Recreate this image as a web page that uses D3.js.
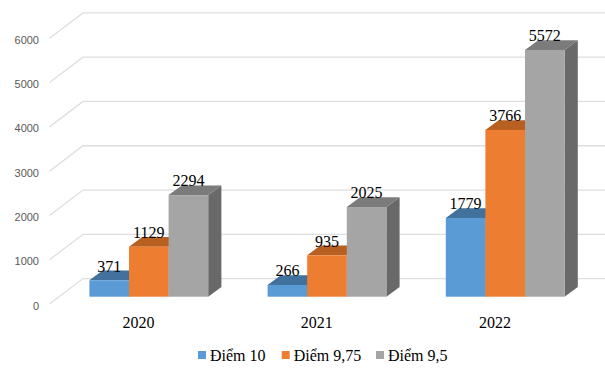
<!DOCTYPE html>
<html>
<head>
<meta charset="utf-8">
<script src="https://cdn.jsdelivr.net/npm/d3@7"></script>
<style>
body { margin: 0; background: #fff; }
svg { display: block; }
</style>
</head>
<body>
<div id="chart"></div>
<script>
var years = ['2020', '2021', '2022']
var seriesNames = ['Điểm 10', 'Điểm 9,75', 'Điểm 9,5']
var diem10 = [371, 266, 1779]
var diem975 = [1129, 935, 3766]
var diem95 = [2294, 2025, 5572]
var yTicks = [0, 1000, 2000, 3000, 4000, 5000, 6000]

var allSeries = [diem10, diem975, diem95]
var frontColors = ['#5b9bd5', '#ed7d31', '#a5a5a5']
var topColors = ['#41719c', '#b85f22', '#7b7b7b']
var sideColors = ['#3f6b94', '#ad5a20', '#696969']

var width = 605
var height = 371

var svg = d3.select('#chart').append('svg')
    .attr('width', width)
    .attr('height', height)

// scales sit on the front edge of the floor
var x = d3.scaleBand().domain(years).range([49.5, 584.1])
var inner = d3.scaleBand().domain([0, 1, 2]).range([0, 118.8])
var y = d3.scaleLinear().domain([0, 6000]).range([304, 38.3])

// wall depth and bar offsets
var wallDx = 33.5, wallDy = -25.4
var barDx = 10.2, barDy = -7.3
var depthDx = 13.2, depthDy = -9.7

// gridlines on the side wall and back wall
svg.append('g')
    .selectAll('path')
    .data(yTicks)
    .enter()
    .append('path')
    .attr('d', function(d) {
        return 'M' + x.range()[0] + ',' + y(d) +
            'L' + (x.range()[0] + wallDx) + ',' + (y(d) + wallDy) +
            'L' + width + ',' + (y(d) + wallDy)
    })
    .attr('fill', 'none')
    .attr('stroke', '#dedede')
    .attr('stroke-width', 1.3)

// y axis
var yAxis = d3.axisLeft(y).tickValues(yTicks).tickSize(0).tickPadding(0).tickFormat(d3.format('d'))
var yG = svg.append('g')
    .attr('transform', 'translate(39,1.5)')
    .call(yAxis)
yG.select('.domain').remove()
yG.selectAll('text')
    .attr('font-family', 'Liberation Sans')
    .attr('font-size', 11)
    .attr('fill', '#595959')

// x axis
var xAxis = d3.axisBottom(x).tickSize(0).tickPadding(0)
var xG = svg.append('g')
    .attr('transform', 'translate(0,317)')
    .call(xAxis)
xG.select('.domain').remove()
xG.selectAll('text')
    .attr('font-family', 'Liberation Serif')
    .attr('font-size', 16)
    .attr('fill', '#000')

// bars
years.forEach(function(year, i) {
    var g = svg.append('g')
    var groupLeft = x(year) + (x.bandwidth() - inner.range()[1]) / 2 + barDx
    var base = y(0) + barDy

    allSeries.forEach(function(values, s) {
        var left = groupLeft + inner(s)
        var right = left + inner.bandwidth()
        var top = y(values[i]) + barDy

        g.append('path')
            .attr('d', 'M' + right + ',' + top + 'L' + (right + depthDx) + ',' + (top + depthDy) +
                'L' + (right + depthDx) + ',' + (base + depthDy) + 'L' + right + ',' + base + 'Z')
            .attr('fill', sideColors[s])
        g.append('path')
            .attr('d', 'M' + left + ',' + top + 'L' + (left + depthDx) + ',' + (top + depthDy) +
                'L' + (right + depthDx) + ',' + (top + depthDy) + 'L' + right + ',' + top + 'Z')
            .attr('fill', topColors[s])
        g.append('rect')
            .attr('x', left)
            .attr('y', top)
            .attr('width', inner.bandwidth())
            .attr('height', base - top)
            .attr('fill', frontColors[s])
    })
})

// data labels go on last so the bars never cover them
years.forEach(function(year, i) {
    var groupLeft = x(year) + (x.bandwidth() - inner.range()[1]) / 2 + barDx
    allSeries.forEach(function(values, s) {
        svg.append('text')
            .attr('x', groupLeft + inner(s) + inner.bandwidth() / 2)
            .attr('y', y(values[i]) + barDy - 8.7)
            .attr('text-anchor', 'middle')
            .attr('font-family', 'Liberation Serif')
            .attr('font-size', 16)
            .attr('fill', '#000')
            .text(values[i])
    })
})

// legend
var legendX = [198, 281.7, 376]
seriesNames.forEach(function(name, s) {
    svg.append('rect')
        .attr('x', legendX[s])
        .attr('y', 351)
        .attr('width', 8)
        .attr('height', 8)
        .attr('fill', frontColors[s])
    svg.append('text')
        .attr('x', legendX[s] + 12)
        .attr('y', 360.5)
        .attr('font-family', 'Liberation Serif')
        .attr('font-size', 16)
        .attr('fill', '#000')
        .text(name)
})
</script>
</body>
</html>
